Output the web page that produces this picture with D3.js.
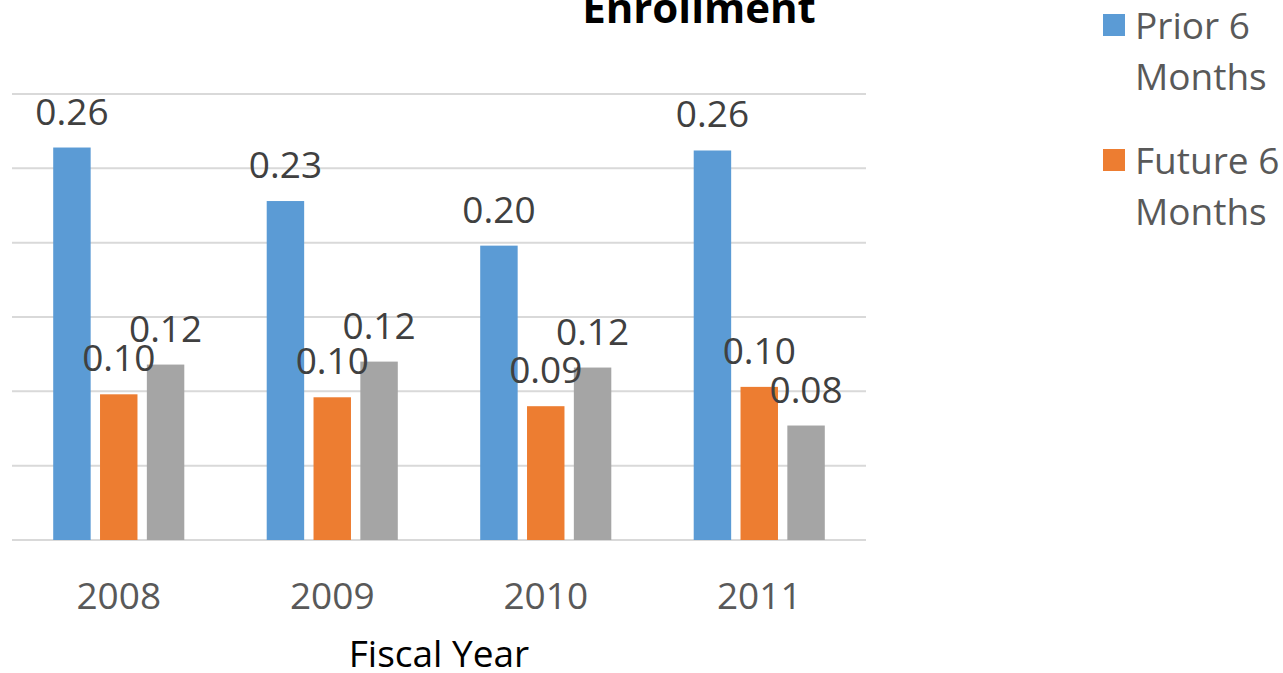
<!DOCTYPE html>
<html>
<head>
<meta charset="utf-8">
<script src="https://cdn.jsdelivr.net/npm/d3@7"></script>
<style>
  html, body { margin: 0; padding: 0; background: #fff; }
  svg { display: block; font-family: "Open Sans", "Noto Sans", sans-serif; }
</style>
</head>
<body>
<svg id="chart" width="1283" height="673"></svg>
<script>
// data
var years = ["2008", "2009", "2010", "2011"];
var seriesNames = ["Prior 6 Months", "Future 6 Months", "Series3"];
var prior6  = [0.264, 0.228, 0.198, 0.262];
var future6 = [0.098, 0.096, 0.090, 0.103];
var series3 = [0.118, 0.120, 0.116, 0.077];
var yTicks  = [0, 0.05, 0.10, 0.15, 0.20, 0.25, 0.30];
var colors  = ["#5b9bd5", "#ed7d31", "#a5a5a5"];
var legendLines = [["Prior 6", "Months"], ["Future 6", "Months"]];

var values = [prior6, future6, series3];
var rows = years.map(function(y, i) {
  return { year: y, vals: values.map(function(s) { return s[i]; }) };
});

var svg = d3.select("#chart");

var plotLeft = 12, plotRight = 866, plotTop = 94, plotBottom = 540;

var x0 = d3.scaleBand().domain(years).range([plotLeft, plotRight]).paddingInner(0.386).paddingOuter(0.193);
var x1 = d3.scaleBand().domain(d3.range(3)).range([0, x0.bandwidth()]).paddingInner(0.2);
var y = d3.scaleLinear().domain([0, 0.30]).range([plotBottom, plotTop]);

// gridlines
svg.append("g")
  .selectAll("line")
  .data(yTicks)
  .join("line")
  .attr("x1", plotLeft).attr("x2", plotRight)
  .attr("y1", function(d) { return y(d); })
  .attr("y2", function(d) { return y(d); })
  .attr("stroke", "#d9d9d9")
  .attr("stroke-width", 2);

// bars
var groups = svg.append("g")
  .selectAll("g")
  .data(rows)
  .join("g")
  .attr("transform", function(d) { return "translate(" + x0(d.year) + ",0)"; });

groups.selectAll("rect")
  .data(function(d) { return d.vals; })
  .join("rect")
  .attr("x", function(d, i) { return x1(i); })
  .attr("y", function(d) { return y(d); })
  .attr("width", x1.bandwidth())
  .attr("height", function(d) { return y(0) - y(d); })
  .attr("fill", function(d, i) { return colors[i]; });

// data labels
groups.selectAll("text")
  .data(function(d) { return d.vals; })
  .join("text")
  .attr("x", function(d, i) { return x1(i) + x1.bandwidth() / 2; })
  .attr("y", function(d) { return y(d) - 23; })
  .attr("text-anchor", "middle")
  .style("font-size", "37px")
  .attr("fill", "#404040")
  .text(function(d) { return d3.format(".2f")(d); });

// category axis
var xAxis = svg.append("g")
  .attr("transform", "translate(0," + plotBottom + ")")
  .call(d3.axisBottom(x0).tickSize(0).tickPadding(0));
xAxis.select(".domain").remove();
xAxis.selectAll("text")
  .attr("dy", null)
  .attr("y", 69)
  .style("font-family", "'Open Sans', sans-serif")
  .style("font-size", "37px")
  .attr("fill", "#595959");

svg.append("text")
  .attr("x", (plotLeft + plotRight) / 2)
  .attr("y", 667)
  .attr("text-anchor", "middle")
  .style("font-size", "37px")
  .attr("fill", "#000")
  .text("Fiscal Year");

// title (partly cut off at top)
svg.append("text")
  .attr("x", 699)
  .attr("y", 23)
  .attr("text-anchor", "middle")
  .style("font-size", "42px")
  .style("font-weight", "bold")
  .attr("fill", "#000")
  .text("Enrollment");

// legend
var legend = svg.append("g")
  .selectAll("g")
  .data(legendLines)
  .join("g")
  .attr("transform", function(d, i) { return "translate(1103," + (14 + i * 135) + ")"; });

legend.append("rect")
  .attr("width", 22).attr("height", 22)
  .attr("fill", function(d, i) { return colors[i]; });

legend.append("text")
  .attr("x", 32)
  .style("font-size", "37px")
  .attr("fill", "#595959")
  .selectAll("tspan")
  .data(function(d) { return d; })
  .join("tspan")
  .attr("x", 32)
  .attr("y", function(d, i) { return 25 + i * 51; })
  .text(function(d) { return d; });
</script>
</body>
</html>
